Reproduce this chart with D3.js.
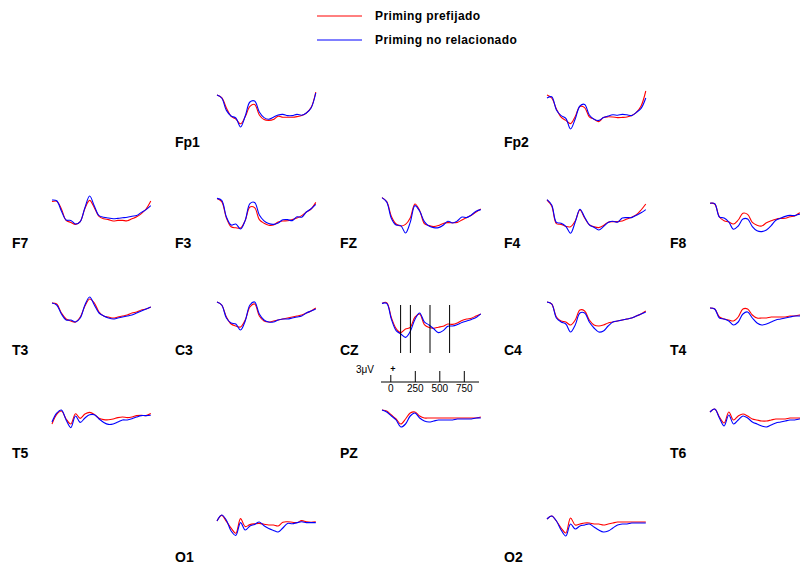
<!DOCTYPE html>
<html><head><meta charset="utf-8">
<script src="https://cdn.jsdelivr.net/npm/d3@7"></script>
<style>body{margin:0;background:#fff} svg{display:block}</style>
</head><body><svg id="c" width="800" height="567"></svg>
<script>
// sample times (ms), one every 48 ms from -100
const times = d3.range(22).map(i => -100 + 48 * i);
const legendLabels = ["Priming prefijado", "Priming no relacionado"];
const scaleTicks = [0, 250, 500, 750];
const czMarkers = [100, 200, 400, 600];
const channels = ["Fp1","Fp2","F7","F3","FZ","F4","F8","T3","C3","CZ","C4","T4","T5","PZ","T6","O1","O2"];

// amplitudes (μV), positive up
const Fp1_pref  = [0.25,-0.4,-3,-5.1,-5.75,-6.95,-5.2,-2.6,-2.1,-4.75,-5.9,-6.1,-5.9,-5.05,-5.3,-5.3,-5.3,-5.15,-4.9,-4.25,-2.9,1];
const Fp1_norel = [0.25,-0.5,-3.6,-5,-5.5,-7.75,-5,-1.5,-1.25,-4,-5.4,-5.8,-5.3,-4.75,-4.6,-4.9,-4.9,-4.6,-4.8,-4.25,-3,0.75];
const Fp2_pref  = [0.25,-0.5,-3.25,-5.3,-6.1,-6.9,-5.1,-2.6,-2.9,-5.2,-5.8,-6.4,-5.4,-5.2,-5.25,-5.4,-5.35,-5.25,-4.9,-4.1,-2.5,1.25];
const Fp2_norel = [-0.5,-0.2,-3.5,-4.9,-5.6,-8.25,-5.75,-2.5,-2.1,-4.75,-5.8,-6.1,-5.4,-5,-4.7,-4.8,-4.6,-4.7,-4.9,-4.1,-3.1,-0.5];
const F7_pref   = [-0.4,-0.3,-2.25,-5.1,-5.6,-6.1,-5.4,-2.1,-0.1,-1.9,-4.1,-4.7,-4.9,-5.25,-5.1,-5.1,-5.2,-4.7,-4.2,-3.4,-2.25,-0.25];
const F7_norel  = [0,-0.2,-2.75,-5,-5.1,-6,-5.4,-1.9,1,-1.5,-3.9,-4.3,-4.5,-4.7,-4.6,-4.45,-4.3,-4.05,-3.9,-3.1,-2.4,-1.4];
const F3_pref   = [0.4,-0.4,-4.5,-6.7,-6.95,-7,-5.1,-1.75,-1.9,-4.9,-5.8,-6.3,-6.25,-5.5,-5.25,-5.2,-4.9,-4.5,-3.9,-3,-2.25,-0.6];
const F3_norel  = [0.4,-0.1,-4.25,-6.25,-6,-7.25,-5.1,-0.9,-0.6,-3.75,-5.2,-5.9,-6.1,-5.75,-4.95,-4.9,-5.15,-4.2,-4.3,-3,-2.2,-1.1];
const FZ_pref   = [0.6,-0.4,-4.1,-6,-6.5,-6.1,-4.5,-1,-2.6,-5.9,-6.4,-6.65,-6.4,-5.85,-5.65,-5.7,-5.6,-5,-4.4,-3.8,-3,-2.25];
const FZ_norel  = [0.6,-0.5,-4.6,-6.25,-6.4,-8.25,-5.6,-1.4,-2.75,-5.4,-6.5,-6.9,-6.9,-6.3,-5.3,-5.75,-5.25,-4.25,-4.4,-3.75,-2.8,-2.4];
const F4_pref   = [0,-1.5,-5.9,-6.1,-6.6,-6.7,-5.25,-2.5,-4.5,-6.2,-6.7,-6.9,-6.4,-5.55,-5.4,-5.4,-5.25,-4.75,-4.3,-3.7,-2.5,-1];
const F4_norel  = [0.1,-1.25,-5.6,-5.8,-6.6,-8.3,-5.5,-2.3,-4.3,-6.2,-6.8,-7.5,-6.65,-5.6,-5.3,-5.55,-4.5,-4.4,-4.4,-3.8,-3.2,-2.4];
const F8_pref   = [-0.8,-1,-4.25,-5.2,-5.5,-6,-5,-3.3,-3.6,-5.6,-6.3,-6.5,-5.7,-5.2,-4.8,-4.6,-4.55,-4.2,-4,-3.25,-3,-2.75];
const F8_norel  = [-0.8,-0.9,-4.25,-4.5,-5.5,-7.3,-6.5,-4.75,-4.75,-6.65,-7.7,-7.9,-7.5,-6.4,-5.05,-4.55,-4.1,-3.85,-3.9,-3.55,-3.4,-3.25];
const T3_pref   = [0,-0.25,-2.5,-4,-4.5,-4.75,-3.5,-0.75,1,0,-2.25,-3.25,-3.5,-3.75,-3.5,-3.25,-3,-2.5,-2.25,-1.75,-1.5,-1];
const T3_norel  = [0,-0.5,-2.75,-4.25,-4.25,-4.75,-3.75,-0.5,1.5,-0.5,-2.5,-3.25,-3.75,-4,-3.75,-3.5,-3.25,-3,-2.5,-2,-1.5,-1];
const C3_pref   = [0.25,-0.5,-3.5,-5.25,-5.75,-6,-4.25,-1,-0.25,-3.25,-4.5,-4.75,-4.5,-4.25,-4,-3.75,-3.5,-3.25,-3,-2.5,-2,-1.25];
const C3_norel  = [0.25,-0.5,-3.75,-5,-5.25,-6.75,-4.5,-0.5,0.25,-2.75,-4.25,-4.75,-4.75,-4.25,-4,-4,-3.75,-3.5,-3.25,-2.5,-2,-1.5];
const CZ_pref   = [-0.1,0.1,-3.7,-6.4,-7.4,-6.5,-6.1,-3.55,-2.75,-5.4,-6.15,-6.3,-6.05,-5.8,-5.25,-5.35,-5,-4.35,-4,-3.8,-3.25,-2.75];
const CZ_norel  = [-0.1,-0.1,-4.1,-6.9,-7.75,-8.6,-7.1,-4.1,-2.5,-4.7,-5.5,-6.45,-7.4,-6.9,-5.8,-5.75,-5.4,-4.9,-4.5,-4.1,-3.6,-2.7];
const C4_pref   = [0.25,-0.25,-3.5,-4.5,-4.75,-5.5,-4.25,-1.75,-2,-4.25,-5.5,-5.75,-5.5,-5,-4.75,-4.5,-4.25,-4,-3.75,-3.25,-2.75,-2];
const C4_norel  = [0.25,-0.25,-3.75,-4.75,-5.25,-7.25,-5.5,-2.5,-2.5,-4.75,-6.25,-7.25,-7,-5.75,-4.75,-4.5,-4.25,-4,-3.75,-3.25,-2.75,-2.25];
const T4_pref   = [-1.25,-1.5,-3.5,-4,-4.25,-4.5,-3.5,-1.5,-1.5,-3,-3.75,-3.75,-3.75,-3.5,-3.5,-3.5,-3.5,-3.25,-3.25,-3,-3,-3];
const T4_norel  = [-1.25,-1.5,-3.75,-4,-4.5,-5.5,-4.75,-2.75,-2.25,-3.75,-5,-5.5,-5.25,-4.75,-4.25,-4,-3.75,-3.5,-3.25,-3.25,-3,-3];
const T5_pref   = [-3.5,-1.1,-0.25,-2.25,-3.5,-0.95,-2.1,-1,-0.6,-1.1,-2.05,-2.4,-2.45,-2.25,-1.9,-1.75,-1.9,-1.75,-1.4,-1.3,-1.4,-0.9];
const T5_norel  = [-3,-0.8,0,-2.5,-4.4,-1.5,-3.1,-2,-1.2,-1.2,-2.25,-3.1,-3.6,-3.5,-3,-2.5,-2.5,-2.2,-1.75,-1.4,-1.4,-1.3];
const PZ_pref   = [0,-0.25,-1.25,-2.25,-3.5,-2.25,-0.75,-0.5,-1.5,-2,-2,-2,-2,-2,-2,-2,-2,-2,-2,-2,-2,-1.75];
const PZ_norel  = [0,-0.5,-1.5,-2.5,-4.25,-3.5,-1.5,-0.75,-2,-2.75,-3,-2.75,-2.5,-2.5,-2.5,-2.5,-2.25,-2.25,-2.25,-2.25,-2,-2];
const T6_pref   = [-0.5,0.25,-1.75,-3.25,-0.5,-2.5,-1.5,-1,-1.5,-2.25,-2.5,-2.75,-2.75,-2.5,-2.25,-2.25,-2.25,-2,-2,-2,-2,-2];
const T6_norel  = [-0.5,0.25,-2,-4,-1.25,-3.5,-2.5,-1.5,-2,-3,-3.5,-4,-4.25,-3.75,-3.25,-3,-2.75,-2.5,-2.5,-2.25,-2.25,-2.25];
const O1_pref   = [-1,0.4,-1.1,-2.8,-4.05,-0.4,-2.4,-1.9,-1.7,-1.6,-1.8,-2,-2,-2.25,-1.3,-1.2,-1.3,-1.4,-0.9,-1.2,-1.3,-1.2];
const O1_norel  = [-1,0.5,-0.8,-3.5,-4.6,-1.4,-3.25,-2.25,-1.85,-1.25,-2.2,-2.9,-3.35,-3.75,-2.75,-1.6,-1.7,-1.4,-1.2,-1.4,-1.4,-1.4];
const O2_pref   = [-0.5,0.25,-1,-2.75,-4,-0.25,-2,-1.75,-1.5,-1.5,-1.75,-1.75,-2,-1.75,-1.5,-1.25,-1.25,-1.25,-1.25,-1.25,-1.25,-1.25];
const O2_norel  = [-0.5,0.25,-1,-3.25,-4.75,-1.75,-3,-2.25,-2,-1.75,-2.5,-3.25,-3.75,-3.5,-2.75,-2,-1.75,-1.75,-1.5,-1.5,-1.5,-1.5];

const seriesPref = {Fp1:Fp1_pref,Fp2:Fp2_pref,F7:F7_pref,F3:F3_pref,FZ:FZ_pref,F4:F4_pref,F8:F8_pref,T3:T3_pref,C3:C3_pref,CZ:CZ_pref,C4:C4_pref,T4:T4_pref,T5:T5_pref,PZ:PZ_pref,T6:T6_pref,O1:O1_pref,O2:O2_pref};
const seriesNorel = {Fp1:Fp1_norel,Fp2:Fp2_norel,F7:F7_norel,F3:F3_norel,FZ:FZ_norel,F4:F4_norel,F8:F8_norel,T3:T3_norel,C3:C3_norel,CZ:CZ_norel,C4:C4_norel,T4:T4_norel,T5:T5_norel,PZ:PZ_norel,T6:T6_norel,O1:O1_norel,O2:O2_norel};

// layout (grid column,row)
const grid = {Fp1:[1,0],Fp2:[3,0],F7:[0,1],F3:[1,1],FZ:[2,1],F4:[3,1],F8:[4,1],T3:[0,2],C3:[1,2],CZ:[2,2],C4:[3,2],T4:[4,2],T5:[0,3],PZ:[2,3],T6:[4,3],O1:[1,4],O2:[3,4]};
const colX = [52,217,382,547,710];
const labelX = [12,175,340,504,670];
const rowY = [96,200,303,410,517];
const labelY = [147,248,355,458,562];
const FONT = "Arial, 'Liberation Sans', sans-serif";
const RED = "#ff0000", BLUE = "#0000ff";

const svg = d3.select("#c");
const x = d3.scaleLinear().domain([-100, 900]).range([0, 98]);
const y = d3.scaleLinear().domain([0, 1]).range([0, -4]);
const line = d3.line().x((d, i) => x(times[i])).y(d => y(d)).curve(d3.curveCatmullRom.alpha(0.5));

channels.forEach(ch => {
  const [c, r] = grid[ch];
  const g = svg.append("g").attr("transform", `translate(${colX[c]},${rowY[r]})`);
  g.append("path").attr("d", line(seriesPref[ch])).attr("fill", "none").attr("stroke", RED).attr("stroke-width", 1.1);
  g.append("path").attr("d", line(seriesNorel[ch])).attr("fill", "none").attr("stroke", BLUE).attr("stroke-width", 1.1);
  svg.append("text").attr("x", labelX[c]).attr("y", labelY[r]).text(ch)
    .attr("font-family", FONT).attr("font-weight", "bold").attr("font-size", 14).attr("fill", "#000");
});

// CZ markers and time scale
const cz = svg.append("g").attr("transform", `translate(${colX[2] - 1},0)`);
cz.selectAll("line.mk").data(czMarkers).join("line")
  .attr("x1", d => x(d)).attr("x2", d => x(d)).attr("y1", 305).attr("y2", 353)
  .attr("stroke", "#000").attr("stroke-width", 1);
const axisY = 382;
cz.append("line").attr("x1", x(-100)).attr("x2", x(900)).attr("y1", axisY).attr("y2", axisY).attr("stroke", "#000");
cz.selectAll("line.tk").data(scaleTicks).join("line")
  .attr("x1", d => x(d)).attr("x2", d => x(d)).attr("y1", axisY).attr("y2", d => d === 0 ? axisY - 7 : axisY - 11)
  .attr("stroke", "#000");
cz.selectAll("text.tl").data(scaleTicks).join("text")
  .attr("x", d => x(d)).attr("y", 392).attr("text-anchor", "middle").text(d => d)
  .attr("font-family", FONT).attr("font-size", 10).attr("fill", "#000");
cz.append("text").attr("x", x(0) + 2).attr("y", 372).attr("text-anchor", "middle").text("+")
  .attr("font-family", FONT).attr("font-size", 9).attr("font-weight", "bold");
cz.append("text").attr("x", -7).attr("y", 373).attr("text-anchor", "end").text("3μV")
  .attr("font-family", FONT).attr("font-size", 10);

// legend
const legColors = [RED, BLUE];
const legY = [16, 40];
legendLabels.forEach((t, i) => {
  svg.append("line").attr("x1", 317).attr("x2", 362).attr("y1", legY[i]).attr("y2", legY[i]).attr("stroke", legColors[i]);
  svg.append("text").attr("x", 375).attr("y", legY[i] + 4).text(t)
    .attr("font-family", FONT).attr("font-weight", "bold").attr("font-size", 12)
    .attr("letter-spacing", 0.4).attr("fill", "#000");
});
</script></body></html>
